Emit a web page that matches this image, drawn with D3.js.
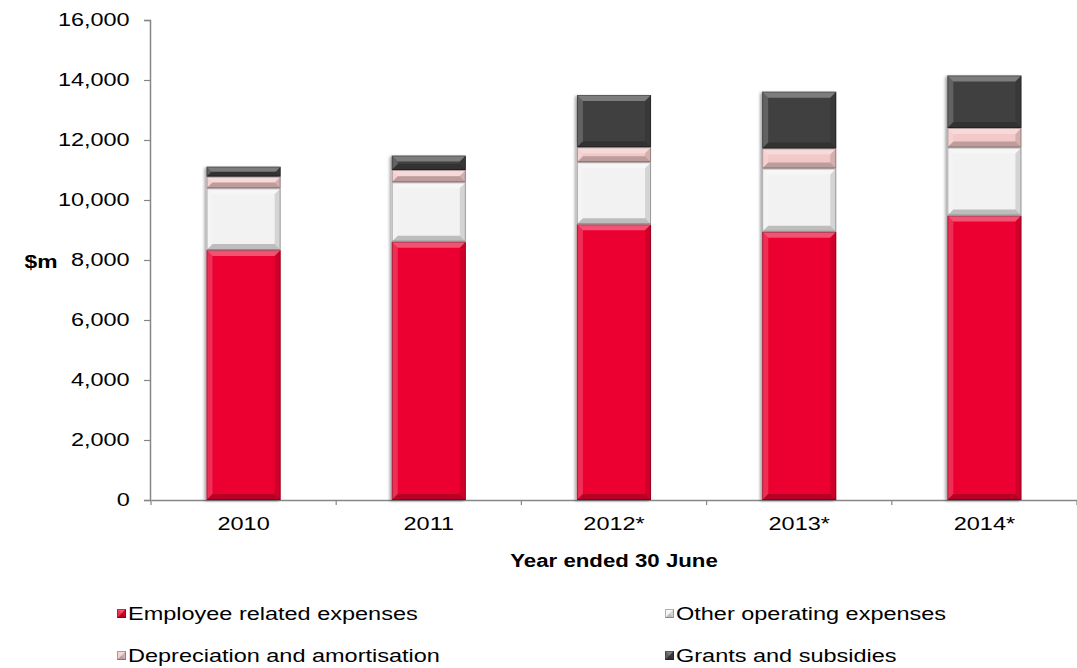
<!DOCTYPE html>
<html>
<head>
<meta charset="utf-8">
<script src="https://cdn.jsdelivr.net/npm/d3@7"></script>
<style>
  html, body { margin: 0; padding: 0; background: #fff; }
  svg { display: block; font-family: Arial, "Liberation Sans", sans-serif; }
</style>
</head>
<body>
<svg id="chart" width="1077" height="668"></svg>
<script>
// Expense categories by financial year ($m)
const years = ["2010", "2011", "2012*", "2013*", "2014*"];
const employee = [8330, 8610, 9190, 8940, 9480];
const otherOperating = [2060, 1980, 2070, 2110, 2270];
const depreciation = [390, 410, 500, 670, 650];
const grants = [330, 480, 1740, 1890, 1750];

const seriesNames = ["Employee related expenses", "Other operating expenses",
                     "Depreciation and amortisation", "Grants and subsidies"];
const seriesColors = ["#EC0030", "#F2F2F2", "#F2C8C8", "#404040"];
const yTicks = [0, 2000, 4000, 6000, 8000, 10000, 12000, 14000, 16000];

const FONT = "Arial, 'Liberation Sans', sans-serif";
const STRETCH = 1.27; // text is set wide
const TEXT_SIZE = 18.5;

const svg = d3.select("#chart");
const plot = { left: 151, right: 1077, top: 20, bottom: 500 };

const x = d3.scaleBand().domain(years).range([plot.left, plot.right]).paddingInner(0.6).paddingOuter(0.3);
const y = d3.scaleLinear().domain([0, 16000]).range([plot.bottom, plot.top]);

// drop shadow for the bars
const defs = svg.append("defs");
const f = defs.append("filter").attr("id", "shadow").attr("x", "-20%").attr("y", "-5%").attr("width", "140%").attr("height", "110%");
f.append("feGaussianBlur").attr("in", "SourceAlpha").attr("stdDeviation", 1.6).attr("result", "b");
f.append("feOffset").attr("in", "b").attr("dx", -2).attr("dy", 1).attr("result", "o");
f.append("feComponentTransfer").attr("in", "o").attr("result", "s")
  .append("feFuncA").attr("type", "linear").attr("slope", 0.35);
const m = f.append("feMerge");
m.append("feMergeNode").attr("in", "s");
m.append("feMergeNode").attr("in", "SourceGraphic");

// stacked layout
const rows = years.map((yr, i) => ({
  year: yr, s0: employee[i], s1: otherOperating[i], s2: depreciation[i], s3: grants[i]
}));
const stack = d3.stack().keys(["s0", "s1", "s2", "s3"]);
const layers = stack(rows);

// axes
const yAxis = d3.axisLeft(y).tickValues(yTicks).tickSize(6).tickPadding(10)
  .tickFormat(d3.format(","));
const gy = svg.append("g").attr("transform", `translate(${plot.left - 1},0)`).call(yAxis);
gy.select(".domain").attr("stroke", "#868686").attr("stroke-width", 1.5);
gy.selectAll(".tick line").attr("stroke", "#868686").attr("stroke-width", 1.2);
gy.selectAll(".tick text").attr("font-size", TEXT_SIZE).attr("fill", "#000").attr("font-family", FONT)
  .attr("transform", `scale(${STRETCH},1)`);

const xAxis = d3.axisBottom(x).tickSize(0).tickPadding(17);
const gx = svg.append("g").attr("transform", `translate(0,${plot.bottom})`).call(xAxis);
gx.select(".domain").attr("stroke", "#868686").attr("stroke-width", 1.5);
gx.selectAll(".tick text").attr("font-size", TEXT_SIZE).attr("fill", "#000").attr("font-family", FONT)
  .attr("transform", `scale(${STRETCH},1)`);
// category separators
gx.selectAll(".sep").data(d3.range(years.length + 1)).join("line")
  .attr("x1", i => plot.left + i * x.step())
  .attr("x2", i => plot.left + i * x.step())
  .attr("y1", 0).attr("y2", 5).attr("stroke", "#868686").attr("stroke-width", 1.2);

// bevelled bar segments
function bevel(g, bx, by, w, h, color) {
  const b = Math.min(6, h / 2, w / 2);
  g.append("rect").attr("x", bx).attr("y", by).attr("width", w).attr("height", h).attr("fill", color);
  const poly = (pts, fill, op) => g.append("polygon")
    .attr("points", pts.map(p => p.join(",")).join(" ")).attr("fill", fill).attr("fill-opacity", op);
  poly([[bx, by], [bx + w, by], [bx + w - b, by + b], [bx + b, by + b]], "#fff", 0.32);
  poly([[bx, by], [bx + b, by + b], [bx + b, by + h - b], [bx, by + h]], "#fff", 0.18);
  poly([[bx + w, by], [bx + w, by + h], [bx + w - b, by + h - b], [bx + w - b, by + b]], "#000", 0.12);
  poly([[bx, by + h], [bx + b, by + h - b], [bx + w - b, by + h - b], [bx + w, by + h]], "#000", 0.22);
  g.append("rect").attr("x", bx + 0.5).attr("y", by + 0.5).attr("width", w - 1).attr("height", h - 1)
    .attr("fill", "none").attr("stroke", "#000").attr("stroke-opacity", 0.28).attr("stroke-width", 1);
}

const bars = svg.append("g");
rows.forEach((r, i) => {
  const g = bars.append("g").attr("filter", "url(#shadow)");
  layers.forEach((layer, k) => {
    const d = layer[i];
    const top = y(d[1]), bot = y(d[0]);
    bevel(g, x(r.year), top, x.bandwidth(), bot - top, seriesColors[k]);
  });
});

// axis titles
function wideText(px, py, str, size, weight, anchor) {
  svg.append("g").attr("transform", `translate(${px},${py}) scale(${STRETCH},1)`)
    .append("text").attr("text-anchor", anchor || "start").attr("font-size", size)
    .attr("font-weight", weight || "normal").attr("font-family", FONT).attr("fill", "#000").text(str);
}
wideText(41, 268, "$m", 18, "bold", "middle");
wideText((plot.left + plot.right) / 2, 567, "Year ended 30 June", 17.5, "bold", "middle");

// legend
const legendPos = [[117, 620], [665, 620], [117, 662], [665, 662]];
seriesNames.forEach((name, k) => {
  const [lx, ly] = legendPos[k];
  const g = svg.append("g");
  bevel(g, lx, ly - 11, 9, 9, seriesColors[k]);
  wideText(lx + 11, ly, name, TEXT_SIZE);
});
</script>
</body>
</html>
